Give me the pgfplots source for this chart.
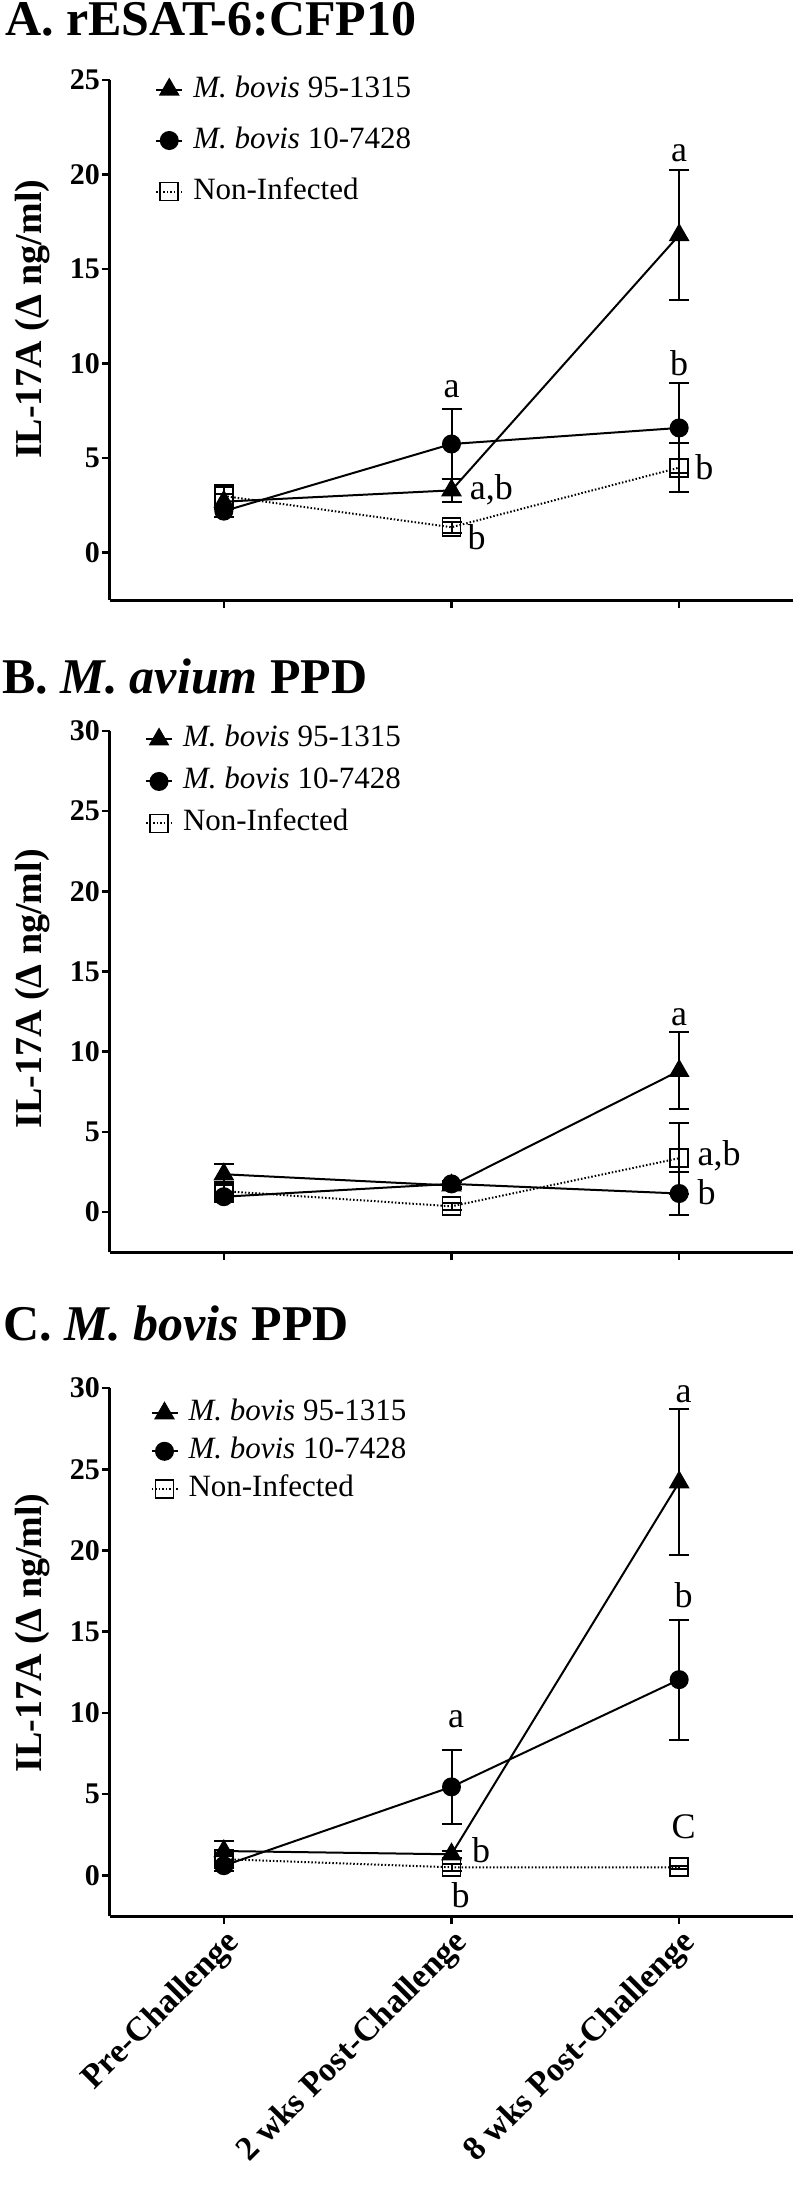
\documentclass[border=0pt]{standalone}
\usepackage{pgfplots}
\pgfplotsset{compat=1.18}
\usepackage{fontspec}
\setmainfont{Liberation Serif}

\pgfplotsset{
  panel/.style={
    scale only axis, width=683pt,
    xmin=-0.5, xmax=2.5, ymin=-2.5,
    axis lines=left, axis line style={-, line width=3pt},
    xtick={0,1,2}, xticklabels={},
    tick align=outside, major tick length=8pt,
    tick style={line width=2.5pt, black},
    yticklabel style={font=\bfseries\fontsize{30}{33}\selectfont, inner sep=2pt},
    ylabel={IL-17A (Δ ng/ml)},
    ylabel style={font=\bfseries\fontsize{38}{42}\selectfont, anchor=center},
    clip=false,
    legend cell align=left,
    legend style={draw=none, fill=none, anchor=north west,
      font=\fontsize{31}{36}\selectfont, inner sep=0pt,
      nodes={inner sep=0pt, text height=22pt, text depth=7pt},
      column sep=10pt},
    legend image code/.code={
      \draw[mark repeat=2, mark phase=2, #1]
        plot coordinates {(0pt,0pt) (13pt,0pt) (26pt,0pt)};},
    error bars/y dir=both, error bars/y explicit,
    error bars/error bar style={line width=2pt, solid},
    error bars/error mark options={rotate=90, mark size=10pt, line width=2pt, solid},
  },
  tri/.style={black, line width=2pt, mark=triangle*, mark size=10pt,
    mark options={solid, fill=black}},
  circ/.style={black, line width=2pt, mark=*, mark size=8.5pt,
    mark options={solid, fill=black}},
  sq/.style={black, line width=2pt, dash pattern=on 1.5pt off 2pt,
    mark=square, mark size=9pt, mark options={solid, line width=1.8pt}},
}
\tikzset{lab/.style={font=\fontsize{36}{40}\selectfont, inner sep=0pt}}

\begin{document}
\begin{tikzpicture}
\useasboundingbox (0,0) rectangle (797pt,-2195pt);

% ---- A. rESAT-6:CFP10
\begin{axis}[panel, at={(110pt,-80pt)}, anchor=north west, height=520pt,
  ymax=25, ytick={0,5,10,15,20,25}, yticklabels={0,5,10,15,20,25},
  ylabel style={at={(axis description cs:-0.114,0.54)}},
  legend style={at={(axis description cs:0.066,1.01)}, row sep=22pt}]
\addplot[tri] coordinates {(0,2.7) +- (0,0.4) (1,3.3) +- (0,0.6) (2,16.8) +- (0,3.45)};
\addlegendentry{\textit{M. bovis} 95-1315}
\addplot[circ] coordinates {(0,2.2) +- (0,0.3) (1,5.75) +- (0,1.85) (2,6.6) +- (0,2.4)};
\addlegendentry{\textit{M. bovis} 10-7428}
\addplot[sq] coordinates {(0,3.0) +- (0,0.6) (1,1.35) +- (0,0.3) (2,4.5) +- (0,1.3)};
\addlegendentry{Non-Infected}
\node[lab, anchor=base] at (axis cs:2,20.7) {a};
\node[lab, anchor=base] at (axis cs:2,9.35) {b};
\node[lab, anchor=base west] at (axis cs:2.07,3.85) {b};
\node[lab, anchor=base] at (axis cs:1,8.2) {a};
\node[lab, anchor=base west] at (axis cs:1.08,2.8) {a,b};
\node[lab, anchor=base west] at (axis cs:1.07,0.15) {b};
\end{axis}

% ---- B. M. avium PPD
\begin{axis}[panel, at={(110pt,-731pt)}, anchor=north west, height=521pt,
  ymax=30, ytick={0,5,10,15,20,25,30}, yticklabels={0,5,10,15,20,25,30},
  ylabel style={at={(axis description cs:-0.114,0.505)}},
  legend style={at={(axis description cs:0.051,1.012)}, row sep=13pt}]
\addplot[tri] coordinates {(0,2.35) +- (0,0.65) (1,1.65) +- (0,0.2) (2,8.8) +- (0,2.4)};
\addlegendentry{\textit{M. bovis} 95-1315}
\addplot[circ] coordinates {(0,0.95) +- (0,0.3) (1,1.75) +- (0,0.2) (2,1.15) +- (0,1.35)};
\addlegendentry{\textit{M. bovis} 10-7428}
\addplot[sq] coordinates {(0,1.3) +- (0,0.5) (1,0.35) +- (0,0.2) (2,3.35) +- (0,2.2)};
\addlegendentry{Non-Infected}
\node[lab, anchor=base] at (axis cs:2,11.6) {a};
\node[lab, anchor=base west] at (axis cs:2.08,2.9) {a,b};
\node[lab, anchor=base west] at (axis cs:2.08,0.44) {b};
\end{axis}

% ---- C. M. bovis PPD
\begin{axis}[panel, at={(110pt,-1388pt)}, anchor=north west, height=528pt,
  ymax=30, ytick={0,5,10,15,20,25,30}, yticklabels={0,5,10,15,20,25,30},
  xticklabels={Pre-Challenge, 2 wks Post-Challenge, 8 wks Post-Challenge},
  xticklabel style={rotate=45, anchor=north east, inner sep=2pt,
    font=\bfseries\fontsize{34}{38}\selectfont},
  ylabel style={at={(axis description cs:-0.114,0.536)}},
  legend style={at={(axis description cs:0.059,0.98)}, row sep=9pt}]
\addplot[tri] coordinates {(0,1.5) +- (0,0.6) (1,1.3) +- (0,0.2) (2,24.2) +- (0,4.5)};
\addlegendentry{\textit{M. bovis} 95-1315}
\addplot[circ] coordinates {(0,0.6) +- (0,0.3) (1,5.45) +- (0,2.3) (2,12.05) +- (0,3.7)};
\addlegendentry{\textit{M. bovis} 10-7428}
\addplot[sq] coordinates {(0,1.0) +- (0,0.4) (1,0.5) +- (0,0.2) (2,0.5) +- (0,0.1)};
\addlegendentry{Non-Infected}
\node[lab, anchor=base] at (axis cs:2.02,29.1) {a};
\node[lab, anchor=base] at (axis cs:2.02,16.5) {b};
\node[lab, anchor=base] at (axis cs:2.02,2.3) {C};
\node[lab, anchor=base] at (axis cs:1.02,9.1) {a};
\node[lab, anchor=base west] at (axis cs:1.09,0.8) {b};
\node[lab, anchor=base] at (axis cs:1.04,-2.0) {b};
\end{axis}

% ---- panel titles
\node[anchor=base west, inner sep=0pt, font=\bfseries\fontsize{50}{56}\selectfont]
  at (5pt,-35pt) {A. rESAT-6:CFP10};
\node[anchor=base west, inner sep=0pt, font=\bfseries\fontsize{50}{56}\selectfont]
  at (2pt,-693pt) {B. \textit{M. avium} PPD};
\node[anchor=base west, inner sep=0pt, font=\bfseries\fontsize{50}{56}\selectfont]
  at (3pt,-1340pt) {C. \textit{M. bovis} PPD};
\end{tikzpicture}
\end{document}
